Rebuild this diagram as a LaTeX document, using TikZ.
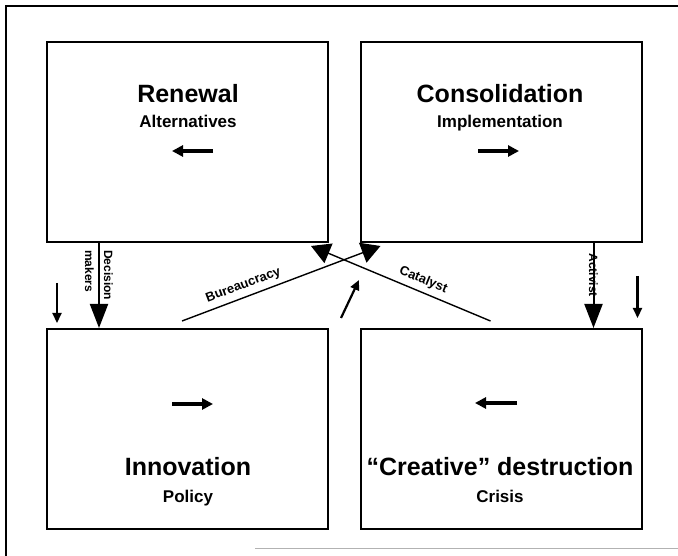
\documentclass[tikz,border=0pt]{standalone}
\usepackage{fontspec}
\setmainfont{Liberation Sans}
\usetikzlibrary{arrows.meta}

\begin{document}
\begin{tikzpicture}[x=1pt, y=-1pt,
        stage/.style={draw, line width=2pt, minimum width=281pt, minimum height=200pt, inner sep=0pt},
        title/.style={anchor=base, font=\fontsize{25}{30}\selectfont\bfseries},
        subtitle/.style={anchor=base, font=\fontsize{17}{20}\selectfont\bfseries},
        flow/.style={line width=3.5pt, -{Triangle[length=11pt,width=11pt]}},
        push/.style={line width=2pt, -{Triangle[length=24pt,width=18pt]}},
        nudge/.style={line width=2.2pt, -{Triangle[length=10pt,width=9pt]}},
        link/.style={line width=1.4pt},
        tag/.style={font=\fontsize{13}{15}\selectfont\bfseries, inner sep=1pt}]
        \useasboundingbox (0,0) rectangle (678,556);
        % frame
        \draw[line width=1.8pt] (678,6) -- (6,6) -- (6,556);
        \draw[gray!60, line width=0.8pt] (255,548) -- (678,548);
        % the four stages
        \node[stage] (renewal) at (187.5,142) {};
        \node[stage] (consolidation) at (501,142) {};
        \node[stage] (innovation) at (187.5,429) {};
        \node[stage] (destruction) at (501,429) {};
        \node[title] (renewaltitle) at (188,103) {Renewal};
        \node[subtitle] (renewalsub) at (188,128) {Alternatives};
        \node[title] (consoltitle) at (500,103) {Consolidation};
        \node[subtitle] (consolsub) at (500,128) {Implementation};
        \node[title] (innovtitle) at (188,475) {Innovation};
        \node[subtitle] (innovsub) at (188,502) {Policy};
        \node[title] (destrtitle) at (500,475) {“Creative” destruction};
        \node[subtitle] (destrsub) at (500,502) {Crisis};
        % direction inside each stage
        \draw[flow] ([shift={(25.5pt,-110pt)}]renewal.north) -- ++(-41,0);
        \draw[flow] ([shift={(-23pt,-110pt)}]consolidation.north) -- ++(41,0);
        \draw[flow] ([shift={(-15.5pt,-76pt)}]innovation.north) -- ++(41,0);
        \draw[flow] ([shift={(16pt,-75pt)}]destruction.north) -- ++(-42,0);
        % between the rows
        \draw[push] ([xshift=53pt]renewal.south west) -- ([xshift=53pt]innovation.north west)
            node[pos=0.38, rotate=-90, align=left, font=\fontsize{12}{19}\selectfont\bfseries] {Decision\\makers};
        \draw[push] ([xshift=-49pt]consolidation.south east) -- ([xshift=-49pt]destruction.north east)
            node[pos=0.38, rotate=-90, font=\fontsize{12}{14}\selectfont\bfseries] {Activist};
        \draw[nudge] ([shift={(11pt,-40pt)}]renewal.south west) -- ++(0,40);
        \draw[nudge] ([shift={(-5pt,-33pt)}]consolidation.south east) -- ++(0,42);
        \draw[nudge] ([shift={(12pt,10pt)}]innovation.north east) -- ++(18,-38);
        % crossing links
        \draw[link, -{Triangle[length=19pt,width=21pt]}] ([shift={(136pt,7pt)}]innovation.north west)
            -- ([shift={(21pt,-3pt)}]consolidation.south west)
            node[tag, pos=0.33, sloped, above=4pt] {Bureaucracy};
        \draw[link, {Triangle[length=19pt,width=21pt]}-] ([shift={(-18pt,-3pt)}]renewal.south east)
            -- ([shift={(-152pt,7pt)}]destruction.north east)
            node[tag, pos=0.6, sloped, above=4pt] {Catalyst};
\end{tikzpicture}
\end{document}
